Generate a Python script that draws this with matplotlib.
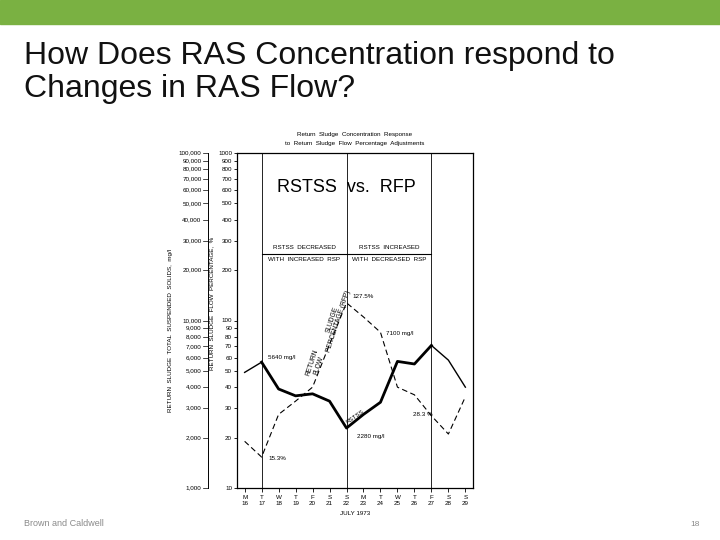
import matplotlib
matplotlib.use("Agg")
import matplotlib.pyplot as plt
from matplotlib.transforms import blended_transform_factory as btf

days = [16, 17, 18, 19, 20, 21, 22, 23, 24, 25, 26, 27, 28, 29]
day_letters = ["M", "T", "W", "T", "F", "S", "S", "M", "T", "W", "T", "F", "S", "S"]
rstss_mgl = [4900, 5640, 3900, 3550, 3650, 3300, 2280, 2750, 3250, 5700, 5500, 7100, 5800, 4000]
rfp_pct = [19, 15.3, 27.5, 33, 40, 72, 127.5, 105, 85, 40, 36, 27, 21, 35]
rfp_ticks = [10, 20, 30, 40, 50, 60, 70, 80, 90, 100, 200, 300, 400, 500, 600, 700, 800, 900, 1000]
rstss_ticks = ["1,000", "2,000", "3,000", "4,000", "5,000", "6,000", "7,000", "8,000", "9,000", "10,000",
               "20,000", "30,000", "40,000", "50,000", "60,000", "70,000", "80,000", "90,000", "100,000"]

plt.rcParams['font.family'] = ['Liberation Sans', 'DejaVu Sans']
fig = plt.figure(figsize=(7.2, 5.4), dpi=100)
fig.patch.set_facecolor("white")

fig.patches.append(plt.Rectangle((0, 1 - 24 / 540), 1, 24 / 540, transform=fig.transFigure,
                                 color="#7ab142", zorder=0))
fig.text(24 / 720, 1 - 56 / 540, "How Does RAS Concentration respond to", fontsize=23, va="center", color="#111111")
fig.text(24 / 720, 1 - 89 / 540, "Changes in RAS Flow?", fontsize=23, va="center", color="#111111")
fig.text(24 / 720, 1 - 524 / 540, "Brown and Caldwell", fontsize=6.5, va="center", color="#8a8a8a")
fig.text(690 / 720, 1 - 524 / 540, "18", fontsize=6, va="center", color="#8a8a8a")

ax = fig.add_axes([237 / 720, (540 - 488) / 540, 236 / 720, 335 / 540])
rstss_scaled = [v / 100 for v in rstss_mgl]
ax.set_yscale("log")
ax.set_ylim(10, 1000)
ax.set_xlim(15.55, 29.45)

ax.plot(days[:2], rstss_scaled[:2], color="black", lw=1.0)
ax.plot(days[1:12], rstss_scaled[1:12], color="black", lw=2.0)
ax.plot(days[11:], rstss_scaled[11:], color="black", lw=1.0)
ax.plot(days, rfp_pct, color="black", lw=0.8, dashes=(5, 3))

for d in (17, 22, 27):
    ax.axvline(d, color="black", lw=0.6)
ax.plot([17, 27], [250, 250], color="black", lw=0.8)

fs = 4.5
ax.text(19.5, 262, "RSTSS  DECREASED", fontsize=fs, ha="center", va="bottom")
ax.text(19.5, 238, "WITH  INCREASED  RSP", fontsize=fs, ha="center", va="top")
ax.text(24.5, 262, "RSTSS  INCREASED", fontsize=fs, ha="center", va="bottom")
ax.text(24.5, 238, "WITH  DECREASED  RSP", fontsize=fs, ha="center", va="top")
ax.text(22, 620, "RSTSS  vs.  RFP", fontsize=13, ha="center", va="center")
ax.text(17.4, 58, "5640 mg/l", fontsize=fs, ha="left", va="bottom")
ax.text(17.4, 15, "15.3%", fontsize=fs, ha="left", va="center")
ax.text(22.35, 135, "127.5%", fontsize=fs, ha="left", va="bottom")
ax.text(24.3, 84, "7100 mg/l", fontsize=fs, ha="left", va="center")
ax.text(22.6, 20.3, "2280 mg/l", fontsize=fs, ha="left", va="center")
ax.text(25.9, 27.5, "28.3 %", fontsize=fs, ha="left", va="center")
ax.text(22.5, 26.5, "RSTSS", fontsize=fs, ha="center", va="center", rotation=35)
ax.text(20.2, 55, "RETURN\nFLOW", fontsize=4.8, ha="center", va="center", rotation=72, linespacing=1.0)
ax.text(21.35, 100, "SLUDGE\nPERCENTAGE (RFP)", fontsize=4.8, ha="center", va="center", rotation=72, linespacing=1.0)

ax.set_yticks(rfp_ticks)
ax.set_yticklabels([str(t) for t in rfp_ticks], fontsize=fs)
ax.yaxis.set_minor_locator(matplotlib.ticker.NullLocator())
ax.tick_params(axis="y", length=2, width=0.6, pad=1.5, direction="out")
ax.set_xticks(days)
ax.set_xticklabels([f"{l}\n{d}" for l, d in zip(day_letters, days)], fontsize=fs, linespacing=1.3)
ax.tick_params(axis="x", length=3, width=0.6, pad=2)
for s in ax.spines.values():
    s.set_linewidth(0.9)

tr = btf(ax.transAxes, ax.transData)
ax.plot([-0.125, -0.125], [10, 1000], transform=tr, color="black", lw=0.7, clip_on=False)
for t, lab in zip(rfp_ticks, rstss_ticks):
    ax.plot([-0.125, -0.145], [t, t], transform=tr, color="black", lw=0.5, clip_on=False)
    ax.text(-0.15, t, lab, transform=tr, fontsize=fs, ha="right", va="center")

ax.text(-0.105, 0.55, "RETURN  SLUDGE  FLOW  PERCENTAGE,  %", transform=ax.transAxes,
        fontsize=fs, rotation=90, ha="center", va="center",
        bbox=dict(facecolor="white", edgecolor="none", pad=0.5))
ax.text(-0.28, 0.47, "RETURN  SLUDGE  TOTAL  SUSPENDED  SOLIDS,  mg/l", transform=ax.transAxes,
        fontsize=fs, rotation=90, ha="center", va="center")
ax.text(0.5, -0.075, "JULY 1973", transform=ax.transAxes, fontsize=fs, ha="center", va="center")
ax.text(0.5, 1.055, "Return  Sludge  Concentration  Response", transform=ax.transAxes,
        fontsize=fs, ha="center", va="center")
ax.text(0.5, 1.028, "to  Return  Sludge  Flow  Percentage  Adjustments", transform=ax.transAxes,
        fontsize=fs, ha="center", va="center")

fig.savefig("out.png", dpi=100, facecolor="white")
